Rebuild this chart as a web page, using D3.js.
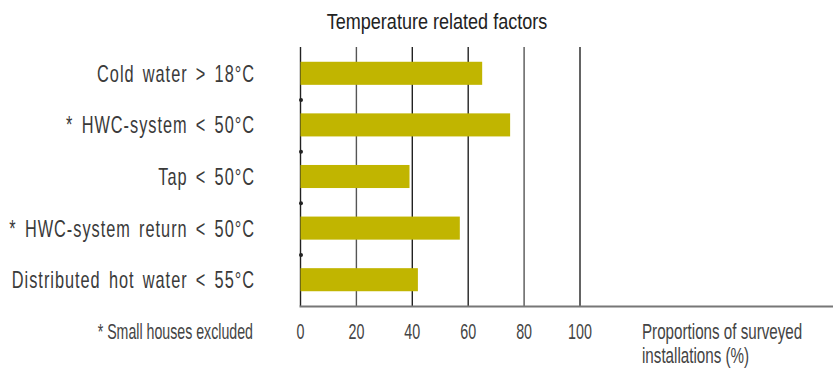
<!DOCTYPE html>
<html><head><meta charset="utf-8">
<script src="https://cdn.jsdelivr.net/npm/d3@7"></script>
<style>
html,body{margin:0;padding:0;background:#fff;}
svg{display:block;}
text{font-family:"Liberation Sans",Arial,sans-serif;}
</style></head>
<body>
<svg id="c" width="834" height="372"></svg>
<script>
const categories = ["Cold water > 18°C", "* HWC-system < 50°C", "Tap < 50°C", "* HWC-system return < 50°C", "Distributed hot water < 55°C"];
const values = [65, 75, 39, 57, 42];
const ticks = [0, 20, 40, 60, 80, 100];
const title = "Temperature related factors";
const footnote = "* Small houses excluded";
const axisTitle = ["Proportions of surveyed", "installations (%)"];

const svg = d3.select("#c");
const x = d3.scaleLinear().domain([0, 100]).range([300.5, 580]);
const y = d3.scaleBand().domain(categories).range([47.5, 305.5]).paddingInner(0.553).paddingOuter(0.2765);

function txt(g, s, tx, ty, size, sx, anchor, fill, ls, ws) {
  return g.append("text")
    .attr("transform", `translate(${tx},${ty}) scale(${sx},1)`)
    .attr("text-anchor", anchor)
    .attr("font-size", size)
    .attr("fill", fill)
    .attr("letter-spacing", ls || 0)
    .attr("word-spacing", ws || 0)
    .text(s);
}

// gridlines
svg.append("g").selectAll("line").data(ticks).join("line")
  .attr("x1", d => x(d)).attr("x2", d => x(d))
  .attr("y1", 47).attr("y2", 306)
  .attr("stroke", (d, i) => (i === 1 || i === 4) ? "#555" : "#222")
  .attr("stroke-width", 1.4);

// bars
svg.append("g").selectAll("rect").data(values).join("rect")
  .attr("x", x(0)).attr("y", (d, i) => y(categories[i]))
  .attr("width", d => x(d) - x(0)).attr("height", y.bandwidth())
  .attr("fill", "#c1b500");

// baseline
svg.append("line").attr("x1", x(0) - 1).attr("x2", 833).attr("y1", 306.5).attr("y2", 306.5)
  .attr("stroke", "#777").attr("stroke-width", 2);

// separator dots
svg.append("g").selectAll("circle").data(categories.slice(1)).join("circle")
  .attr("cx", x(0) + 0.5)
  .attr("cy", d => y(d) - (y.step() - y.bandwidth()) / 2 + 1)
  .attr("r", 2).attr("fill", "#222");

// category labels
const lg = svg.append("g");
categories.forEach(c => {
  txt(lg, c, 255, y(c) + y.bandwidth() / 2 + 8.5, 24, 0.68, "end", "#3a3a3a", 1.45, 4);
});

// tick labels
const tg = svg.append("g");
ticks.forEach(t => txt(tg, String(t), x(t), 339, 22, 0.65, "middle", "#444"));

// footnote
txt(svg, footnote, 253, 339, 22, 0.645, "end", "#444");

// axis title
txt(svg, axisTitle[0], 642, 339, 22, 0.69, "start", "#444");
txt(svg, axisTitle[1], 642, 363, 22, 0.69, "start", "#444");

// title
txt(svg, title, 437, 29, 22, 0.82, "middle", "#222");
</script>
</body></html>
